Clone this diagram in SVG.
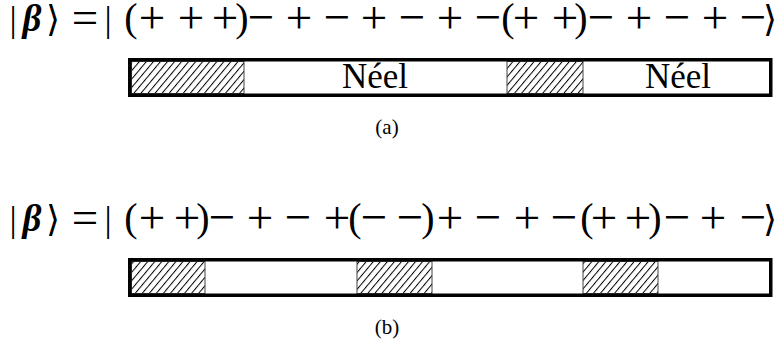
<svg xmlns="http://www.w3.org/2000/svg" width="777" height="347" viewBox="0 0 777 347">
<style>
text{font-family:"Liberation Serif","DejaVu Serif",serif;fill:#000;text-anchor:middle}
.op{font-size:47px}
.par{font-size:40px}
.bar{font-size:36px}
.beta{font-size:37px;font-weight:bold;font-style:italic}
.eq{font-size:47px}
.lbl{font-size:35px}
.cap{font-size:21px}
.frame{fill:none;stroke:#000;stroke-width:3.5}
.hatch{fill:url(#hatch);stroke:#444;stroke-width:1}
</style>
<defs>
<pattern id="hatch" patternUnits="userSpaceOnUse" width="5.4" height="10" patternTransform="rotate(40)">
<rect width="5.4" height="10" fill="#fff"/>
<line x1="0.5" y1="0" x2="0.5" y2="10" stroke="#000" stroke-width="1"/>
</pattern>
</defs>
<rect width="777" height="347" fill="#fff"/>

<g id="state-a">
<text class="bar" x="13" y="31">|</text>
<text class="beta" x="32" y="31">β</text>
<text class="bar" x="53" y="31">⟩</text>
<text class="eq" x="85" y="33">=</text>
<text class="bar" x="108" y="31">|</text>
<text class="par" x="131" y="31">(</text>
<text class="op" x="152" y="33">+</text>
<text class="op" x="191" y="33">+</text>
<text class="op" x="225" y="33">+</text>
<text class="par" x="242" y="31">)</text>
<text class="op" x="261" y="33">−</text>
<text class="op" x="299" y="33">+</text>
<text class="op" x="337" y="33">−</text>
<text class="op" x="374" y="33">+</text>
<text class="op" x="412" y="33">−</text>
<text class="op" x="450" y="33">+</text>
<text class="op" x="488" y="33">−</text>
<text class="par" x="508" y="31">(</text>
<text class="op" x="526" y="33">+</text>
<text class="op" x="565" y="33">+</text>
<text class="par" x="581" y="31">)</text>
<text class="op" x="601" y="33">−</text>
<text class="op" x="639" y="33">+</text>
<text class="op" x="677" y="33">−</text>
<text class="op" x="715" y="33">+</text>
<text class="op" x="753" y="33">−</text>
<text class="bar" x="770" y="31">⟩</text>
</g>

<g id="chain-a">
<rect x="129.75" y="59.75" width="641" height="35.5" fill="#fff"/>
<rect class="hatch" x="131.5" y="61.5" width="112.5" height="32"/>
<rect class="hatch" x="507" y="61.5" width="76" height="32"/>
<text class="lbl" x="375" y="88">Néel</text>
<text class="lbl" x="678" y="88">Néel</text>
<rect class="frame" x="129.75" y="59.75" width="641" height="35.5"/>
</g>
<g id="caption-a"><text class="cap" x="387" y="134">(a)</text></g>

<g id="state-b">
<text class="bar" x="13" y="231">|</text>
<text class="beta" x="32" y="231">β</text>
<text class="bar" x="53" y="231">⟩</text>
<text class="eq" x="85" y="233">=</text>
<text class="bar" x="108" y="231">|</text>
<text class="par" x="131" y="231">(</text>
<text class="op" x="152" y="233">+</text>
<text class="op" x="187" y="233">+</text>
<text class="par" x="203" y="231">)</text>
<text class="op" x="222" y="233">−</text>
<text class="op" x="260" y="233">+</text>
<text class="op" x="298" y="233">−</text>
<text class="op" x="337" y="233">+</text>
<text class="par" x="355" y="231">(</text>
<text class="op" x="374" y="233">−</text>
<text class="op" x="410" y="233">−</text>
<text class="par" x="428" y="231">)</text>
<text class="op" x="450" y="233">+</text>
<text class="op" x="488" y="233">−</text>
<text class="op" x="527" y="233">+</text>
<text class="op" x="564" y="233">−</text>
<text class="par" x="587" y="231">(</text>
<text class="op" x="604" y="233">+</text>
<text class="op" x="638" y="233">+</text>
<text class="par" x="655" y="231">)</text>
<text class="op" x="677" y="233">−</text>
<text class="op" x="713" y="233">+</text>
<text class="op" x="753" y="233">−</text>
<text class="bar" x="770" y="231">⟩</text>
</g>

<g id="chain-b">
<rect x="129.75" y="259.75" width="641" height="35.5" fill="#fff"/>
<rect class="hatch" x="131.5" y="261.5" width="73.5" height="32"/>
<rect class="hatch" x="357" y="261.5" width="75" height="32"/>
<rect class="hatch" x="583" y="261.5" width="75" height="32"/>
<rect class="frame" x="129.75" y="259.75" width="641" height="35.5"/>
</g>
<g id="caption-b"><text class="cap" x="387" y="334">(b)</text></g>
</svg>
